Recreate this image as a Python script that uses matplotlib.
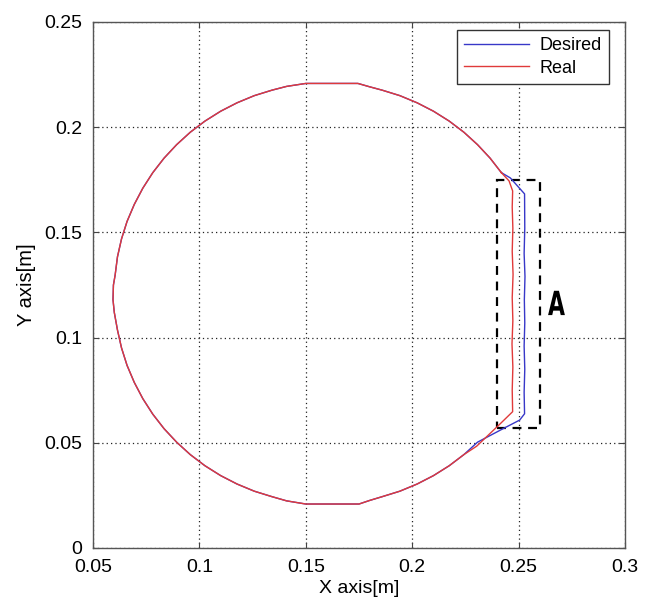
import matplotlib
matplotlib.use("Agg")
import matplotlib.pyplot as plt
from matplotlib.patches import Rectangle
from matplotlib.ticker import FuncFormatter
from matplotlib.patheffects import AbstractPathEffect
from matplotlib.transforms import Affine2D

plt.rcParams['font.family'] = ['Liberation Sans', 'DejaVu Sans']

# Shared circular part of the path, counterclockwise from upper-right
arc_x = [0.2419, 0.2366, 0.2307, 0.2243, 0.2174, 0.2100, 0.2023, 0.1942, 0.1859, 0.1800,
         0.1745, 0.1500, 0.1410, 0.1341, 0.1258, 0.1177, 0.1100, 0.1026, 0.0957, 0.0893,
         0.0834, 0.0781, 0.0734, 0.0694, 0.0660, 0.0634, 0.0615, 0.0604, 0.0596, 0.0594,
         0.0600, 0.0615, 0.0634, 0.0660, 0.0694, 0.0734, 0.0781, 0.0834, 0.0893, 0.0957,
         0.1026, 0.1100, 0.1177, 0.1258, 0.1341, 0.1410, 0.1500, 0.1750, 0.1800, 0.1859,
         0.1942, 0.2023, 0.2100, 0.2174, 0.2243]
arc_y = [0.1784, 0.1853, 0.1917, 0.1976, 0.2029, 0.2076, 0.2116, 0.2150, 0.2176, 0.2192,
         0.2208, 0.2208, 0.2194, 0.2176, 0.2150, 0.2116, 0.2076, 0.2029, 0.1976, 0.1917,
         0.1853, 0.1784, 0.1710, 0.1633, 0.1552, 0.1469, 0.1384, 0.1297, 0.1250, 0.1180,
         0.1120, 0.1036, 0.0951, 0.0868, 0.0787, 0.0710, 0.0636, 0.0567, 0.0503, 0.0444,
         0.0391, 0.0344, 0.0304, 0.0270, 0.0244, 0.0224, 0.0209, 0.0209, 0.0226, 0.0244,
         0.0270, 0.0304, 0.0344, 0.0391, 0.0444]

# Desired: right-hand straight part (lower junction -> up -> upper junction)
desired_right_x = [0.2307, 0.2425, 0.2505, 0.2528, 0.2526, 0.2529, 0.2526, 0.2529, 0.2527,
                   0.2530, 0.2526, 0.2529, 0.2528, 0.2461, 0.2419]
desired_right_y = [0.0503, 0.0566, 0.0608, 0.0638, 0.0740, 0.0850, 0.0960, 0.1070, 0.1180,
                   0.1290, 0.1400, 0.1520, 0.1683, 0.1759, 0.1784]

# Real: right-hand straight part
real_right_x = [0.2303, 0.2406, 0.2472, 0.2470, 0.2473, 0.2469, 0.2473, 0.2470, 0.2474,
                0.2470, 0.2473, 0.2470, 0.2472, 0.2455, 0.2419]
real_right_y = [0.0484, 0.0583, 0.0648, 0.0750, 0.0860, 0.0970, 0.1080, 0.1190, 0.1300,
                0.1410, 0.1520, 0.1620, 0.1697, 0.1745, 0.1784]

# Highlight box "A"
box_x = [0.240, 0.260]
box_y = [0.057, 0.175]
box_label = "A"
box_label_pos = (0.2638, 0.1107)

x_ticks = [0.05, 0.1, 0.15, 0.2, 0.25, 0.3]
y_ticks = [0, 0.05, 0.1, 0.15, 0.2, 0.25]

desired_x = arc_x + desired_right_x
desired_y = arc_y + desired_right_y
real_x = arc_x + real_right_x
real_y = arc_y + real_right_y


class Squeeze(AbstractPathEffect):
    """Draw text glyphs horizontally condensed (text stays a Text object)."""
    def __init__(self, sx):
        super().__init__()
        self.sx = sx

    def draw_path(self, renderer, gc, tpath, affine, rgbFace=None):
        renderer.draw_path(gc, tpath, Affine2D().scale(self.sx, 1.0) + affine, rgbFace)


fig = plt.figure(figsize=(6.47, 6.03), dpi=100)
ax = fig.add_axes([93/647, 1-548/603, 532/647, 526/603])

ax.plot(desired_x, desired_y, color='#3838c8', lw=1.0, label='Desired')
ax.plot(real_x, real_y, color='#e03a3a', lw=1.0, label='Real')

ax.add_patch(Rectangle((box_x[0], box_y[0]), box_x[1]-box_x[0], box_y[1]-box_y[0],
                       fill=False, edgecolor='black', lw=1.6, linestyle=(0, (4, 3))))
ax.text(box_label_pos[0], box_label_pos[1], box_label, fontsize=24, fontweight='bold',
        family=['DejaVu Sans'], ha='left', va='baseline',
        path_effects=[Squeeze(0.66)])

ax.set_xlim(0.05, 0.3)
ax.set_ylim(0, 0.25)
ax.set_xticks(x_ticks)
ax.set_yticks(y_ticks)
fmt = FuncFormatter(lambda v, p: '%g' % v)
ax.xaxis.set_major_formatter(fmt)
ax.yaxis.set_major_formatter(fmt)
ax.tick_params(direction='in', length=4, labelsize=14, top=True, right=True,
               color='#444444')
ax.tick_params(axis='y', pad=8)
ax.tick_params(axis='x', pad=8)
ax.grid(True, color='#222222', linestyle=(0, (1, 2.5)), lw=0.9)
for s in ax.spines.values():
    s.set_color('#555555')
    s.set_linewidth(1.0)

ax.set_xlabel('X axis[m]', fontsize=14, labelpad=3)
ax.set_ylabel('Y axis[m]', fontsize=14.5, labelpad=6)

leg = ax.legend(loc='upper right', bbox_to_anchor=(0.970, 0.985), borderaxespad=0,
                fontsize=13, handlelength=3.6, fancybox=False, framealpha=1,
                edgecolor='#333333', borderpad=0.4, labelspacing=0.3, handletextpad=0.6)
leg.get_frame().set_linewidth(1.0)

fig.savefig('out.png', dpi=100)
